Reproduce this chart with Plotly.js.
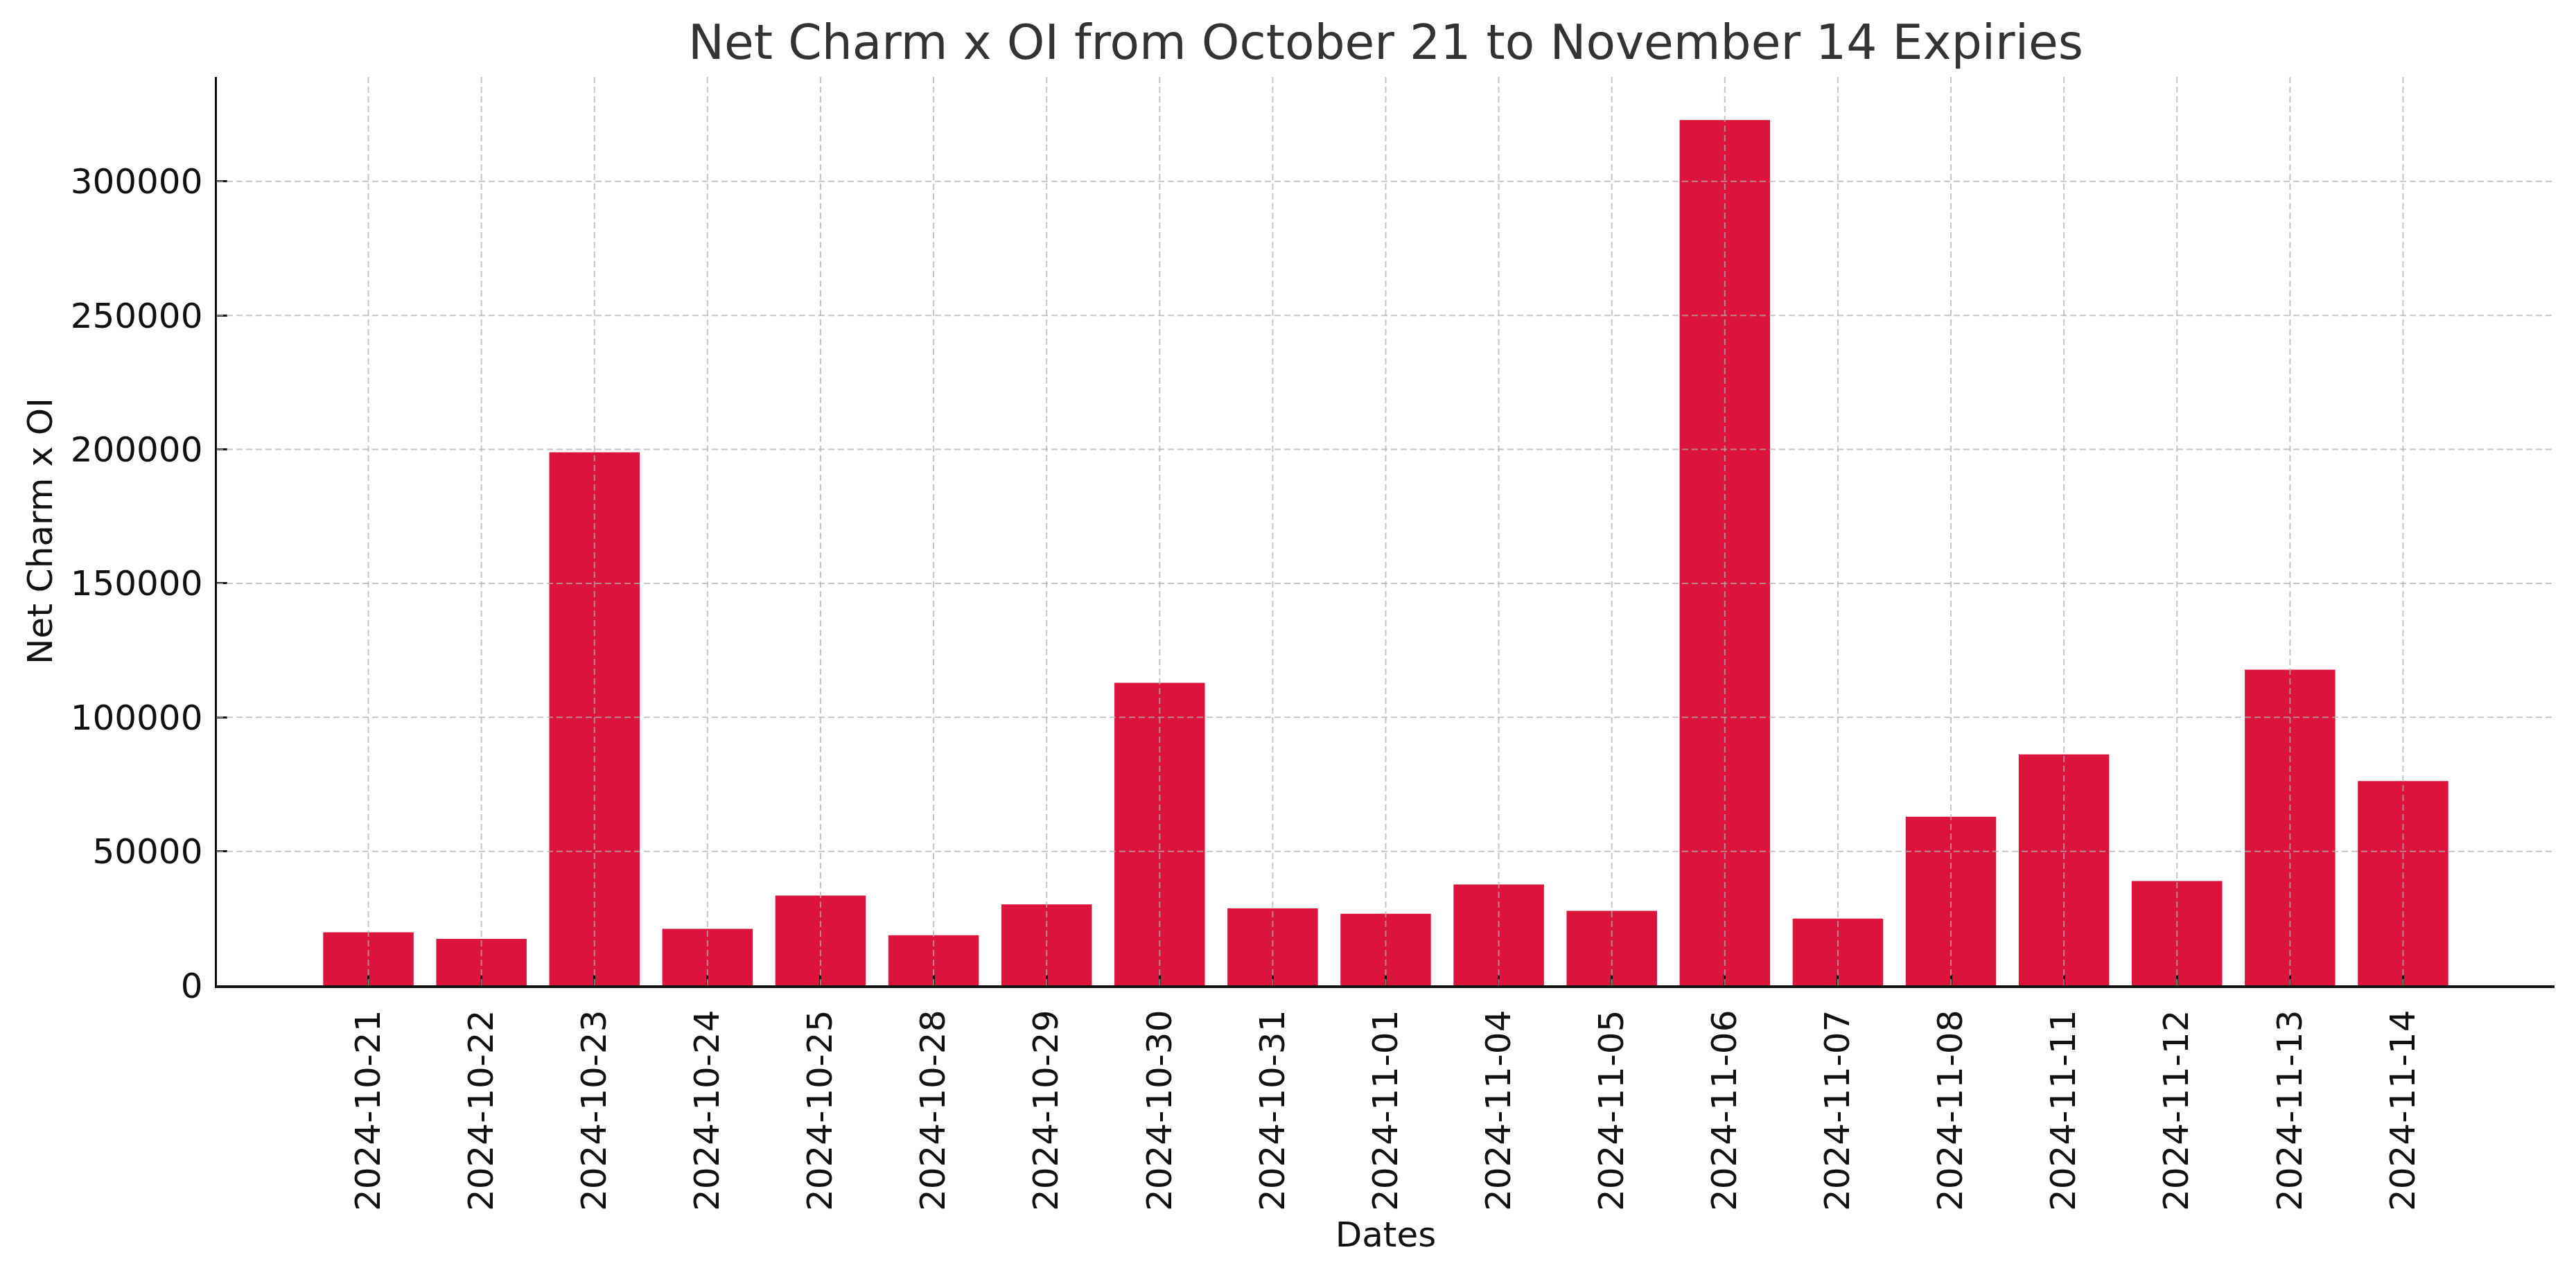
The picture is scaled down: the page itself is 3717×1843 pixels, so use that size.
<!DOCTYPE html>
<html>
<head>
<meta charset="utf-8">
<script src="https://cdn.plot.ly/plotly-3.0.1.min.js"></script>
<style>html,body{margin:0;padding:0;background:#fff;}</style>
</head>
<body>
<div id="chart" style="width:3717px;height:1843px;"></div>
<script>
const dates = ["2024-10-21","2024-10-22","2024-10-23","2024-10-24","2024-10-25","2024-10-28","2024-10-29","2024-10-30","2024-10-31","2024-11-01","2024-11-04","2024-11-05","2024-11-06","2024-11-07","2024-11-08","2024-11-11","2024-11-12","2024-11-13","2024-11-14"];
const netCharmOI = [19800, 17300, 198900, 21100, 33500, 18700, 30200, 112900, 28700, 26700, 37600, 27800, 322900, 24900, 62900, 86200, 38900, 117800, 76200];
const yTicks = [0, 50000, 100000, 150000, 200000, 250000, 300000];
const titleText = "Net Charm x OI from October 21 to November 14 Expiries";
const xLabel = "Dates";
const yLabel = "Net Charm x OI";

const FONT = "DejaVu Sans, Verdana, sans-serif";
const gridLine = {color: "rgba(176,176,176,0.72)", width: 2, dash: "9px,5px"};

const shapes = [];
yTicks.filter(v => v !== 0).forEach(v => shapes.push({
  type: "line", xref: "paper", yref: "y", x0: 0, x1: 1, y0: v, y1: v,
  line: gridLine, layer: "above"
}));
dates.forEach(d => shapes.push({
  type: "line", xref: "x", yref: "paper", x0: d, x1: d, y0: 0, y1: 1,
  line: gridLine, layer: "above"
}));

const trace = {
  type: "bar",
  x: dates,
  y: netCharmOI,
  width: 0.8,
  marker: {color: "#DC143C", line: {width: 0}},
  hoverinfo: "x+y"
};

const layout = {
  width: 3717, height: 1843,
  paper_bgcolor: "#ffffff", plot_bgcolor: "#ffffff",
  margin: {l: 313, r: 31, t: 111, b: 421},
  showlegend: false,
  font: {family: FONT, color: "#111111", size: 50},
  title: {
    text: titleText,
    font: {family: FONT, size: 69.5, color: "#333333"},
    x: 0.5, xref: "paper", xanchor: "center",
    y: 1, yref: "paper", yanchor: "bottom",
    pad: {b: 26}
  },
  xaxis: {
    type: "category",
    range: [-1.34, 19.34],
    tickangle: -90,
    ticks: "inside", ticklen: 15, tickwidth: 3, tickcolor: "#111111",
    showline: true, linecolor: "#111111", linewidth: 3.5,
    showgrid: false, zeroline: false,
    tickfont: {family: FONT, size: 50, color: "#111111"},
    ticklabelstandoff: 12,
    title: {text: xLabel, font: {family: FONT, size: 50, color: "#111111"}, standoff: 18},
    automargin: false
  },
  yaxis: {
    range: [0, 339000],
    tickvals: yTicks,
    ticktext: yTicks.map(v => String(v)),
    ticks: "inside", ticklen: 15, tickwidth: 3, tickcolor: "#111111",
    showline: true, linecolor: "#111111", linewidth: 3.5,
    showgrid: false, zeroline: false,
    tickfont: {family: FONT, size: 50, color: "#111111"},
    ticklabelstandoff: 7,
    title: {text: yLabel, font: {family: FONT, size: 50, color: "#111111"}, standoff: 11},
    automargin: false
  },
  shapes: shapes,
  bargap: 0.2
};

Plotly.newPlot("chart", [trace], layout, {displayModeBar: false, staticPlot: true});
</script>
</body>
</html>
